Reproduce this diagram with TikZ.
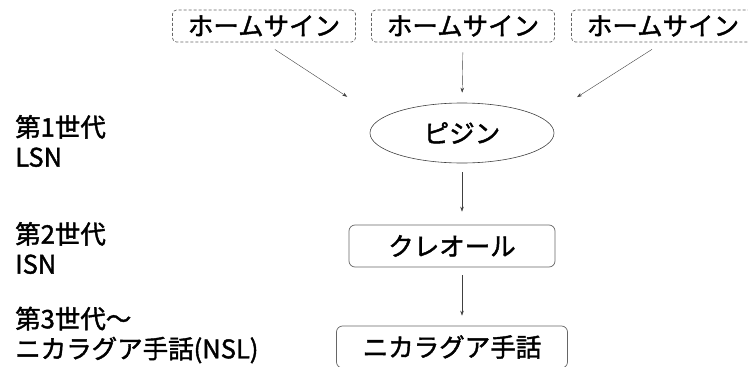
\documentclass[tikz,border=0pt]{standalone}
\usepackage{fontspec}
\setmainfont{Noto Sans CJK JP}[FakeBold=1.6]
\usetikzlibrary{shapes.geometric,arrows.meta}

\tikzstyle{homesign}=[draw=black!60,line width=0.7pt,dash pattern=on 3pt off 2pt,rounded corners=4pt,minimum width=183pt,minimum height=32pt,inner sep=0pt]
\tikzstyle{lang}=[draw=black!60,line width=0.7pt,rounded corners=6pt,minimum height=42pt,inner sep=0pt]
\tikzstyle{oval}=[draw=black!75,line width=0.6pt,ellipse,minimum width=184pt,minimum height=60pt,inner sep=0pt]
\tikzstyle{flow}=[draw=black!75,thin,-{Stealth[length=5pt,width=3.5pt]}]
\tikzstyle{gen}=[align=left,anchor=west,inner sep=0pt]
\newcommand{\jpsize}{\fontsize{25.5}{30}\selectfont}

\begin{document}
\begin{tikzpicture}[x=1pt, y=-1pt, font=\jpsize]
    \useasboundingbox (0,0) rectangle (748,367);
    % First we draw the home signs
    \foreach \pos/\name in {{(264,26)/h1}, {(463,26)/h2}, {(663,26)/h3}}
        \node[homesign] (\name) at \pos {ホームサイン};
    % Then the languages
    \node[oval] (pidgin) at (462,133) {ピジン};
    \node[lang, minimum width=206pt] (creole) at (452,246) {クレオール};
    \node[lang, minimum width=231pt] (nsl) at (452,347) {ニカラグア手話};
    % Generations on the left
    \node[gen] (g1) at (15,141) {第1世代\\LSN};
    \node[gen] (g2) at (15,248) {第2世代\\ISN};
    \node[gen] (g3) at (15,335) {第3世代～\\ニカラグア手話(NSL)};
    % Connect home signs with the pidgin
    \path[flow, shorten <=13pt, shorten >=40pt] (h1.south) -- (pidgin.170);
    \path[flow, shorten <=10pt, shorten >=10pt] (h2.south) -- (pidgin.north);
    \path[flow, shorten <=13pt, shorten >=40pt] (h3.south) -- (pidgin.10);
    % and the pidgin down to the sign language
    \path[flow, shorten <=9pt, shorten >=13pt] (pidgin.south) -- (pidgin.south |- creole.north);
    \path[flow, shorten <=8pt, shorten >=10pt] (pidgin.south |- creole.south) -- (pidgin.south |- nsl.north);
\end{tikzpicture}
\end{document}
